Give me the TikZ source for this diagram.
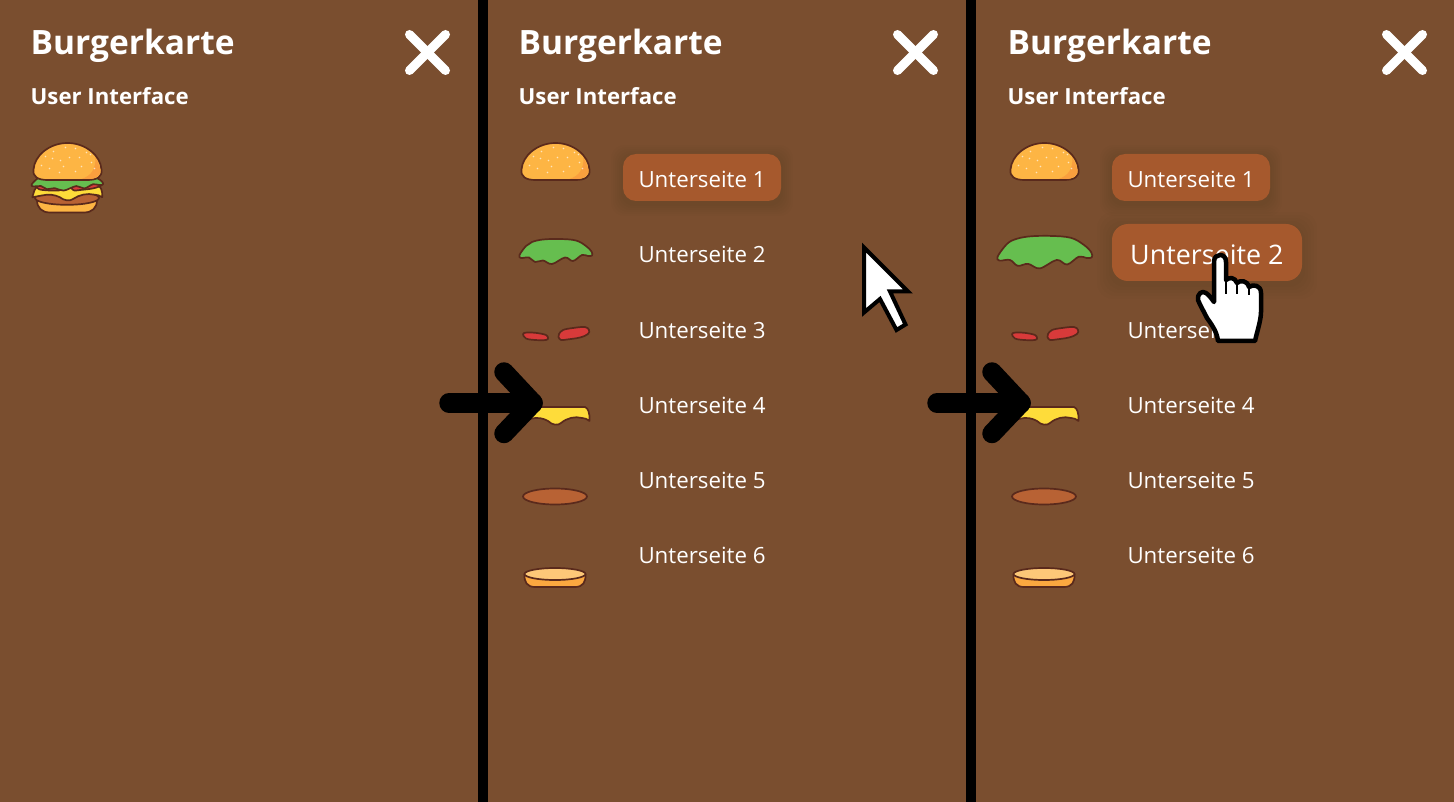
\documentclass[tikz,border=0pt]{standalone}
\usepackage{fontspec}
\setmainfont{Open Sans}
\definecolor{brownbg}{HTML}{7A4E2F}
\definecolor{btnbrown}{HTML}{A6592D}
\definecolor{outl}{HTML}{5A2A1C}
\definecolor{bunfill}{HTML}{FDB544}
\definecolor{bundark}{HTML}{F99F3E}
\definecolor{lettuce}{HTML}{66BE4F}
\definecolor{tomato}{HTML}{D83A3A}
\definecolor{cheese}{HTML}{FEDC3A}
\definecolor{patty}{HTML}{B86234}
\definecolor{bunlight}{HTML}{FDC878}
\usetikzlibrary{positioning}

\begin{document}
\begin{tikzpicture}[x=1pt,y=-1pt]
        \tikzset{layer/.style={draw=outl,line width=1.7pt,line join=round},
            title/.style={anchor=base west,inner sep=0pt,text=white,font=\bfseries\fontsize{33.5}{34}\selectfont},
            subtitle/.style={anchor=base west,inner sep=0pt,text=white,font=\bfseries\fontsize{22.2}{22}\selectfont},
            entry/.style={anchor=base west,inner sep=0pt,text=white,font=\fontsize{22.3}{22}\selectfont},
            bigentry/.style={anchor=base west,inner sep=0pt,text=white,font=\fontsize{26.9}{27}\selectfont},
            closeline/.style={draw=white,line width=9pt,line cap=round},
            bigarrow/.style={draw=black,line width=19.5pt,line cap=round,line join=round},
            bunpic/.pic={
                \path[layer,fill=bunfill] (-34,8) .. controls (-33,-6) and (-18,-18.5) .. (0,-18.5)
                    .. controls (18,-18.5) and (33,-6) .. (34,8)
                    .. controls (35,15) and (30,18.5) .. (20,18.5) -- (-20,18.5)
                    .. controls (-30,18.5) and (-35,15) .. (-34,8) -- cycle;
                \fill[bundark] (33,9) .. controls (33,15) and (28,17.5) .. (20,17.5) -- (14,17.5)
                    .. controls (24,14) and (28,8) .. (28,-4) .. controls (30,0) and (32,4) .. (33,9) -- cycle;
                \foreach \sx/\sy in {-26/4,-22/-5,-14/-10,-7/-1,-2/-14,8/-13,-18/7,-4/5,12/-4,14/5,23/-7,24/1,27/7,-15/-3,2/-4,8/10,-8/11,19/-9}
                    \fill[white,opacity=.65] (\sx,\sy) circle (.8pt);
            },
            lettucepic/.pic={
                \path[layer,fill=lettuce] plot[smooth cycle,tension=.6] coordinates {(-36.5,4) (-30,-5) (-24,-9) (-13,-11.5) (4,-12) (20,-10.5) (30,-5) (35.5,0.5) (36,4.5) (32,5)
                    (26,4) (17,10) (9,6.5) (-4,13) (-13,9.5) (-21,11) (-27,6.5) (-35,7)};
            },
            tomatopic/.pic={
                \path[layer,fill=tomato] plot[smooth cycle,tension=.6] coordinates {(-32,2) (-28,.5) (-18,1) (-9,3) (-7,6) (-9,8) (-20,8) (-29,6.5)};
                \path[layer,fill=tomato] plot[smooth cycle,tension=.6] coordinates {(4,2) (8,-2) (18,-4) (30,-5) (34,-2) (33,2) (25,5.5) (12,7.5) (6,8) (3.5,5)};
            },
            cheesepic/.pic={
                \path[layer,fill=cheese] (-32,-3) .. controls (-30,-9) and (-26,-9) .. (-20,-9) -- (30,-9)
                    .. controls (33,-8) and (35,-3) .. (34.5,5) .. controls (32,3) and (30,2) .. (27,2)
                    .. controls (20,0) and (12,2) .. (6,7) .. controls (3,10) and (-3,9) .. (-7,5)
                    .. controls (-12,2) and (-18,1) .. (-25,3) -- (-34,5) -- cycle;
            },
            pattypic/.pic={
                \path[layer,fill=patty] (0,0) ellipse (32 and 8);
            },
            bottompic/.pic={
                \path[layer,fill=bundark!60!bunfill] (-30.5,-3) .. controls (-31,5) and (-28,10) .. (-20,10)
                    -- (20,10) .. controls (28,10) and (31,5) .. (30.5,-3) -- cycle;
                \path[layer,fill=bunlight] (0,-3) ellipse (30.5 and 6);
            }}
        % background and dividers
        \fill[brownbg] (0,0) rectangle (1454,802);
        \useasboundingbox (0,0) rectangle (1454,802);
        \fill[black] (478,0) rectangle (488,802);
        \fill[black] (966,0) rectangle (976,802);
        % header of each panel
        \foreach \off/\nm in {0/a,488/b,977/c}{
            \begin{scope}[xshift=\off pt]
            \node[title] (title\nm) at (30.5,55) {Burgerkarte};
            \node[subtitle] (sub\nm) at (30.5,104.5) {User Interface};
            \draw[closeline] (409.5,34.5) -- (445.5,70.5);
            \draw[closeline] (445.5,34.5) -- (409.5,70.5);
            \end{scope}
        }
        % whole burger
        \path[layer,fill=bunfill] (37,200) .. controls (37,208) and (42,212.5) .. (50,212.5) -- (84,212.5)
            .. controls (92,212.5) and (97,208) .. (97,200) -- cycle;
        \pic at (67,198) [yscale=.85] {pattypic};
        \pic at (67,193) [yscale=.85,xscale=1.02] {cheesepic};
        \pic at (68,184) [yscale=.8] {tomatopic};
        \pic at (67.5,181.5) [yscale=.7,xscale=.98] {lettucepic};
        \pic at (67.5,161.5) {bunpic};
        % menus
        \foreach \off/\nm in {0/b,489/c}{
            \begin{scope}[xshift=\off pt]
            \foreach \sh in {12,10,8,6,4,2}
                \fill[black,opacity=.01,rounded corners=13pt] (623-\sh,154-\sh+3) rectangle (781+\sh,201+\sh+3);
            \node[fill=btnbrown,rounded corners=13pt,minimum width=158pt,minimum height=47pt,inner sep=0pt] (btn\nm) at (702,177.5) {};
            \pic at (555.5,161.5) {bunpic};
            \pic at (555,332) {tomatopic};
            \pic at (555,416) {cheesepic};
            \pic at (555,496.5) {pattypic};
            \pic at (555,577) {bottompic};
            \foreach \i in {1,3,4,5,6}{
                \pgfmathtruncatemacro{\by}{113+75*\i}
                \node[entry] (item\nm\i) at (638.3,\by) {Unterseite \i};
            }
            \end{scope}
        }
        \pic at (556,251) {lettucepic};
        \node[entry] (itemb2) at (638.3,263) {Unterseite 2};
        % hovered entry
        \foreach \sh in {15,12,9,6,3}
            \fill[black,opacity=.012,rounded corners=16pt] (1112-\sh,224-\sh+3) rectangle (1302+\sh,281+\sh+3);
        \node[fill=btnbrown,rounded corners=16pt,minimum width=190pt,minimum height=57pt,inner sep=0pt] (btnhover) at (1207,252.5) {};
        \pic at (1045,251.5) [scale=1.3] {lettucepic};
        \node[bigentry] (itemc2) at (1130,265) {Unterseite 2};
        % arrows between the panels
        \foreach \off/\nm in {0/a,488/b}{
            \begin{scope}[xshift=\off pt]
            \coordinate (tail\nm) at (449,403);
            \coordinate (tip\nm) at (533,403);
            \coordinate (upper\nm) at (504,372);
            \coordinate (lower\nm) at (504,433.5);
            \draw[bigarrow] (tail\nm) -- (tip\nm);
            \draw[bigarrow] (upper\nm) -- (tip\nm) -- (lower\nm);
            \end{scope}
        }
        % pointer
        \path[draw=black,fill=white,line width=4pt,miter limit=10] (864,247.5) -- (908,291.5) -- (890,291.5)
            -- (905.5,324.5) -- (896.5,330) -- (880,299) -- (864,312.5) -- cycle;
        % hand
        \path[draw=black,fill=white,line width=4.5pt,line join=round] (1214,262) .. controls (1214,257) and (1217,255) .. (1220,255)
            .. controls (1224,255) and (1226,258) .. (1226,262) -- (1226,280)
            .. controls (1229,277) and (1235,277) .. (1237,283)
            .. controls (1240,280) and (1247,280) .. (1249,287)
            .. controls (1253,284) and (1261,285) .. (1261,293) -- (1261,312)
            .. controls (1261,320) and (1257,332) .. (1255,341) -- (1218,341)
            .. controls (1217,332) and (1212,325) .. (1207,318)
            .. controls (1204,312) and (1200,305) .. (1198,300)
            .. controls (1197,294) and (1202,290) .. (1206,293)
            .. controls (1209,295) and (1211,298) .. (1214,302) -- cycle;
        \draw[black,line width=2.5pt] (1226,280) -- (1226,294);
        \draw[black,line width=2.5pt] (1237,283) -- (1237,294);
        \draw[black,line width=2.5pt] (1249,287) -- (1249,295);
\end{tikzpicture}
\end{document}
